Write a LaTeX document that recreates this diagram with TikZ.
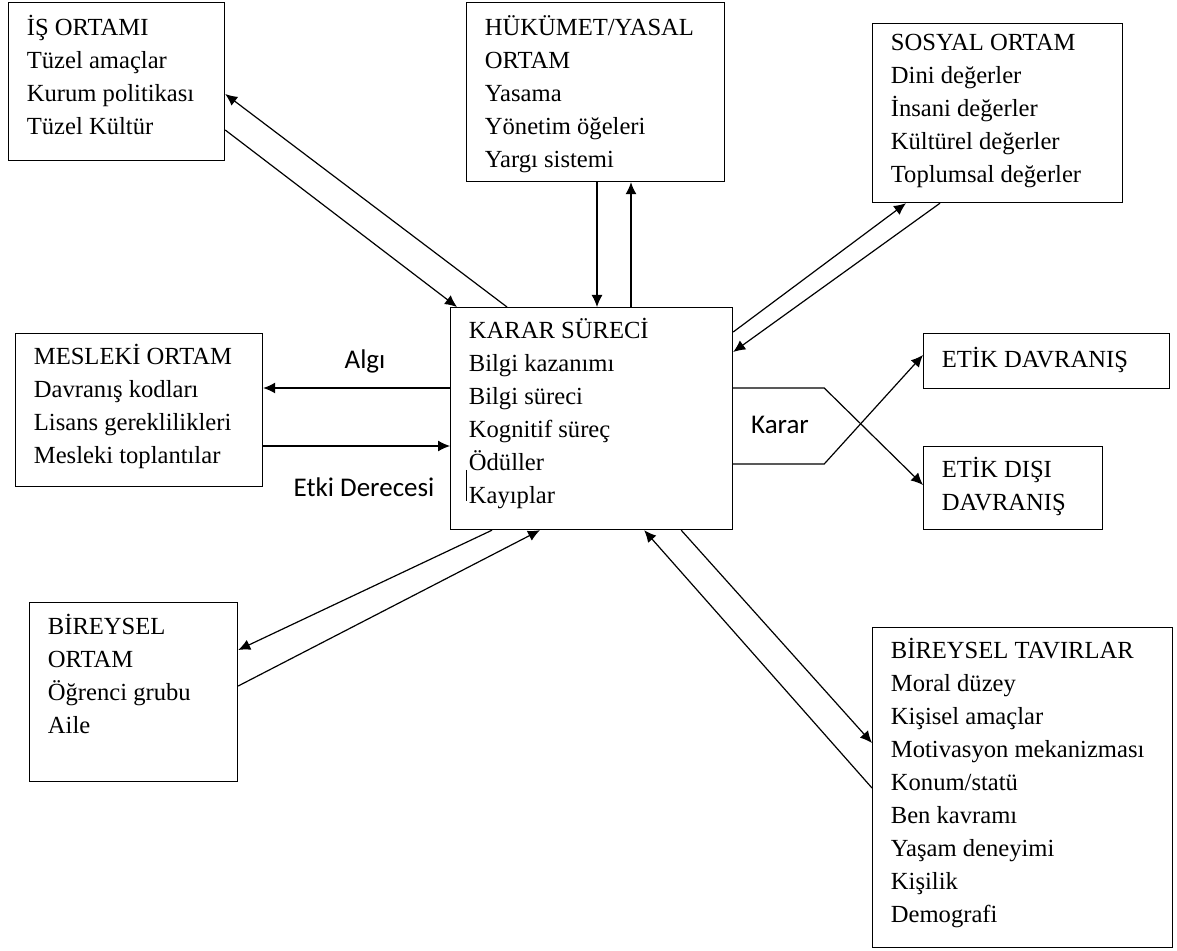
\documentclass[tikz,border=0pt]{standalone}
\usepackage{fontspec}
\setmainfont{Liberation Serif}
\newfontfamily\calibri{Carlito}
\usetikzlibrary{arrows.meta,positioning}
\tikzset{
	kutu/.style={draw,line width=0.6pt,inner sep=0pt,anchor=north west},
	yazi/.style={anchor=north west,align=left,inner sep=0pt,font=\fontsize{12.3}{16.5}\selectfont,execute at begin node=\strut},
	etiket/.style={font=\calibri\fontsize{13.5}{16}\selectfont,inner sep=0pt},
	ok/.style={->,>={Latex[length=6pt,width=5.5pt]},line width=0.6pt}
}

\begin{document}
\begin{tikzpicture}[x=0.5pt,y=-0.5pt]
	\useasboundingbox (0,0) rectangle (1177,951);
	
	% kutular
	\node[kutu,minimum width=108pt,minimum height=79pt] (is) at (8,2) {};
	\node[kutu,minimum width=129pt,minimum height=89.5pt] (huk) at (466,2) {};
	\node[kutu,minimum width=125pt,minimum height=89.5pt] (sosyal) at (872,23) {};
	\node[kutu,minimum width=141pt,minimum height=111pt] (karar) at (450,307) {};
	\node[kutu,minimum width=123.5pt,minimum height=76.5pt] (meslek) at (15,333) {};
	\node[kutu,minimum width=123pt,minimum height=27.5pt] (etik) at (923,333) {};
	\node[kutu,minimum width=89.5pt,minimum height=41.5pt] (etikdisi) at (923,446) {};
	\node[kutu,minimum width=104pt,minimum height=89.5pt] (bireysel) at (29,602) {};
	\node[kutu,minimum width=150pt,minimum height=160pt] (tavir) at (872,627) {};
	
	% yazilar
	\node[yazi] (t-is) at ([shift={(18.5,12.9)}]is.north west) {İŞ ORTAMI\\Tüzel amaçlar\\Kurum politikası\\Tüzel Kültür};
	\node[yazi] (t-huk) at ([shift={(18.5,12.9)}]huk.north west) {HÜKÜMET/YASAL\\ORTAM\\Yasama\\Yönetim öğeleri\\Yargı sistemi};
	\node[yazi] (t-sosyal) at ([shift={(18.5,10.9)}]sosyal.north west) {SOSYAL ORTAM\\Dini değerler\\İnsani değerler\\Kültürel değerler\\Toplumsal değerler};
	\node[yazi] (t-karar) at ([shift={(18.5,10.9)}]karar.north west) {KARAR SÜRECİ\\Bilgi kazanımı\\Bilgi süreci\\Kognitif süreç\\Ödüller\\Kayıplar};
	\node[yazi] (t-meslek) at ([shift={(18.5,10.9)}]meslek.north west) {MESLEKİ ORTAM\\Davranış kodları\\Lisans gereklilikleri\\Mesleki toplantılar};
	\node[yazi] (t-etik) at ([shift={(18.5,10.9)}]etik.north west) {ETİK DAVRANIŞ};
	\node[yazi] (t-etikdisi) at ([shift={(18.5,10.9)}]etikdisi.north west) {ETİK DIŞI\\DAVRANIŞ};
	\node[yazi] (t-bireysel) at ([shift={(18.5,11.9)}]bireysel.north west) {BİREYSEL\\ORTAM\\Öğrenci grubu\\Aile};
	\node[yazi] (t-tavir) at ([shift={(18.5,10.9)}]tavir.north west) {BİREYSEL TAVIRLAR\\Moral düzey\\Kişisel amaçlar\\Motivasyon mekanizması\\Konum/statü\\Ben kavramı\\Yaşam deneyimi\\Kişilik\\Demografi};
	
	% etiketler
	\node[etiket] (algi) at (365,361) {Algı};
	\node[etiket] (etki) at (364,487) {Etki Derecesi};
	\node[etiket] (kararyazi) at (780,425) {Karar};
	
	% oklar
	\draw[ok] ([shift={(57,0)}]karar.north west)--([shift={(0,92)}]is.north east);
	\draw[ok] ([shift={(0,128)}]is.north east)--([shift={(7,0)}]karar.north west);
	\draw[ok] ([shift={(131,0)}]huk.south west)--([shift={(147,0)}]karar.north west);
	\draw[ok] ([shift={(181,0)}]karar.north west)--([shift={(165,0)}]huk.south west);
	\draw[ok] ([shift={(0,25)}]karar.north east)--([shift={(34,0)}]sosyal.south west);
	\draw[ok] ([shift={(68,0)}]sosyal.south west)--([shift={(0,45)}]karar.north east);
	\draw[ok] ([shift={(0,81)}]karar.north west)--([shift={(0,55)}]meslek.north east);
	\draw[ok] ([shift={(0,113)}]meslek.north east)--([shift={(0,139)}]karar.north west);
	\draw[ok] ([shift={(0,81)}]karar.north east)--++(91,0)--([shift={(0,39)}]etikdisi.north west);
	\draw[ok] ([shift={(0,157)}]karar.north east)--++(91,0)--([shift={(0,22)}]etik.north west);
	\draw[ok] ([shift={(42,0)}]karar.south west)--([shift={(0,48)}]bireysel.north east);
	\draw[ok] ([shift={(0,84)}]bireysel.north east)--([shift={(90,0)}]karar.south west);
	\draw[ok] ([shift={(-52,0)}]karar.south east)--([shift={(0,116)}]tavir.north west);
	\draw[ok] ([shift={(0,161)}]tavir.north west)--([shift={(-89,0)}]karar.south east);
	
	% imlec
	\draw[line width=0.5pt] ([shift={(16,163)}]karar.north west)--([shift={(16,194)}]karar.north west);
\end{tikzpicture}
\end{document}
